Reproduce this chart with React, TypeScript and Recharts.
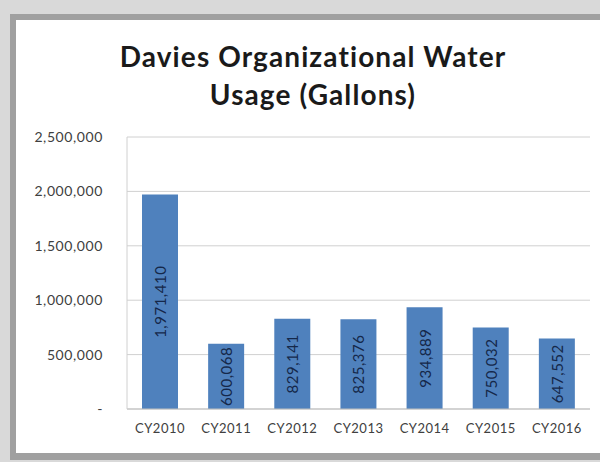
import React from "react";
import { BarChart, Bar, XAxis, YAxis, CartesianGrid, LabelList } from "recharts";

const categories = ["CY2010", "CY2011", "CY2012", "CY2013", "CY2014", "CY2015", "CY2016"];
const usage = [1971410, 600068, 829141, 825376, 934889, 750032, 647552];
const yTicks = [0, 500000, 1000000, 1500000, 2000000, 2500000];

const data = categories.map((c, i) => ({ year: c, usage: usage[i] }));

const fmt = (v: number) => (v === 0 ? "-" : v.toLocaleString("en-US"));

const FONT = "Lato, 'Open Sans', sans-serif";

const BarLabel = (props: any) => {
  const { x, y, width, height, value } = props;
  const cx = x + width / 2;
  const cy = y + height / 2;
  return (
    <text
      x={cx}
      y={cy}
      transform={`rotate(-90 ${cx} ${cy})`}
      textAnchor="middle"
      dominantBaseline="central"
      fill="#15284a"
      fontSize={15}
      letterSpacing={0.5}
      fontFamily={FONT}
    >
      {fmt(value)}
    </text>
  );
};

export default function App() {
  return (
    <div
      style={{
        position: "fixed",
        left: 0,
        top: 0,
        width: 600,
        height: 462,
        background: "#d9d9d9",
        overflow: "hidden",
      }}
    >
      <style>{`html, body { margin: 0; padding: 0; overflow: hidden; }`}</style>
      <div
        style={{
          position: "absolute",
          left: 10,
          top: 14,
          width: 590,
          height: 446,
          boxSizing: "border-box",
          borderLeft: "6px solid #a0a0a0",
          borderTop: "6px solid #a0a0a0",
          borderBottom: "7px solid #a0a0a0",
          background: "#ffffff",
        }}
      />
      <div
        style={{
          position: "absolute",
          left: 16,
          top: 37,
          width: 594,
          textAlign: "center",
          fontFamily: FONT,
          fontWeight: 700,
          fontSize: 28,
          letterSpacing: 1.1,
          lineHeight: "38px",
          color: "#1a1a1a",
        }}
      >
        Davies Organizational Water
        <br />
        Usage (Gallons)
      </div>
      <div style={{ position: "absolute", left: 16, top: 20 }}>
        <BarChart
          width={584}
          height={433}
          data={data}
          margin={{ top: 117, right: 10, left: 0, bottom: 0 }}
        >
          <CartesianGrid vertical={false} stroke="#d0d0d0" />
          <XAxis
            dataKey="year"
            height={44}
            axisLine={{ stroke: "#bfbfbf" }}
            tickLine={false}
            tickSize={6}
            tickMargin={9}
            tick={{ fill: "#404040", fontSize: 13, letterSpacing: 0.5, fontFamily: FONT }}
            interval={0}
          />
          <YAxis
            width={111}
            domain={[0, 2500000]}
            ticks={yTicks}
            tickFormatter={fmt}
            axisLine={{ stroke: "#d0d0d0" }}
            tickLine={false}
            tickSize={6}
            tickMargin={18}
            tick={{ fill: "#404040", fontSize: 14, letterSpacing: 0.6, fontFamily: FONT }}
            interval={0}
          />
          <Bar dataKey="usage" fill="#4f81bd" barSize={36} isAnimationActive={false}>
            <LabelList dataKey="usage" content={<BarLabel />} />
          </Bar>
        </BarChart>
      </div>
    </div>
  );
}
